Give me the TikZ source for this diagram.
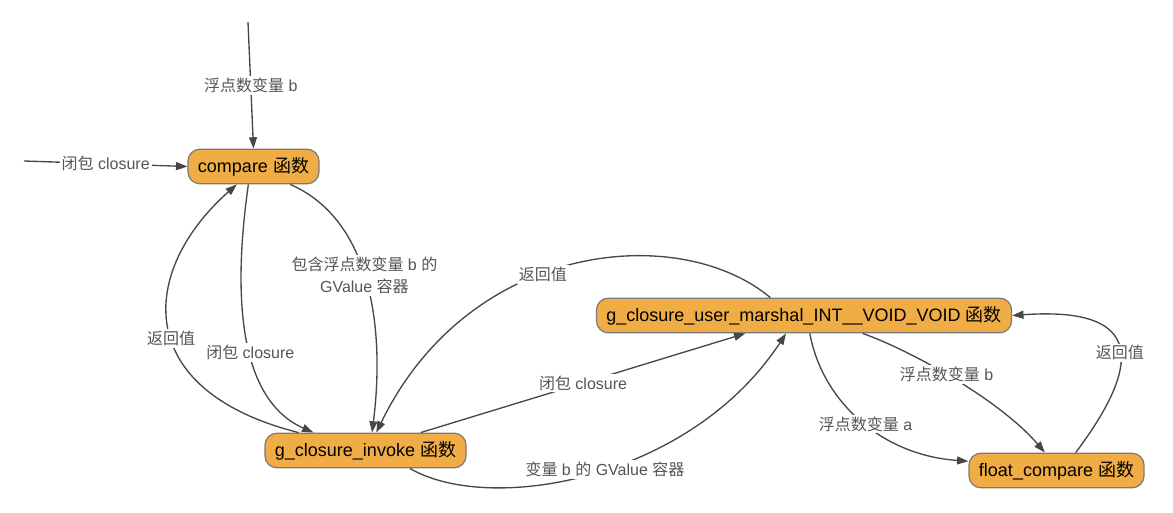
\documentclass[tikz,border=0pt]{standalone}
\usepackage{fontspec}
\setmainfont{Liberation Sans}
\newfontfamily\cjk{Noto Sans CJK SC}
\newcommand{\zh}[1]{{\cjk #1}}
\usetikzlibrary{arrows.meta}
\definecolor{fnorange}{HTML}{F0AD45}
\definecolor{fnborder}{HTML}{7A7A7A}
\definecolor{edgegray}{HTML}{474747}
\definecolor{lblgray}{HTML}{555555}
\tikzset{
  fn/.style={draw=fnborder, fill=fnorange, rounded corners=9pt, line width=0.9pt,
    minimum height=26pt, inner xsep=7.5pt, font=\fontsize{13.5}{16}\selectfont},
  lbl/.style={fill=white, text=lblgray, inner sep=1.5pt, align=center,
    font=\fontsize{12}{16.5}\selectfont},
  flow/.style={draw=edgegray, line width=1pt, -{Triangle[length=8.5pt,width=6pt]}}
}

\begin{document}
\begin{tikzpicture}[x=0.75pt, y=-0.75pt]
\useasboundingbox (0,0) rectangle (1173,513);
% functions
\node[fn] (cmp) at (253.5,166.5) {compare \zh{函数}};
\node[fn] (inv) at (365.5,450.5) {g\_closure\_invoke \zh{函数}};
\node[fn] (msh) at (804,315.5) {g\_closure\_user\_marshal\_INT\_\_VOID\_VOID \zh{函数}};
\node[fn] (fcmp) at (1056.5,470.5) {float\_compare \zh{函数}};
\coordinate (inb) at (248,22);
\coordinate (incl) at (24,161);
% inputs of compare
\draw[flow] (inb) -- node[lbl] {\zh{浮点数变量} b} (cmp.north);
\draw[flow] (incl) -- node[lbl] {\zh{闭包} closure} (cmp.west);
% compare <-> g_closure_invoke
\draw[flow] (cmp.254.7) .. controls (232,300) and (240,400) .. node[lbl, pos=0.55] {\zh{闭包} closure} (inv.161);
\draw[flow] (cmp.334.4) .. controls (372,220) and (385,330) .. node[lbl, pos=0.47] {\zh{包含浮点数变量} b \zh{的}\\GValue \zh{容器}} (inv.70);
\draw[flow] (inv.165) .. controls (130,390) and (140,270) .. node[lbl, pos=0.45] {\zh{返回值}} (cmp.227);
% g_closure_invoke <-> marshal
\draw[flow] (inv.18) -- node[lbl] {\zh{闭包} closure} (msh.197.4);
\draw[flow] (inv.338.5) .. controls (490,515) and (690,480) .. node[lbl, pos=0.53] {\zh{变量} b \zh{的} GValue \zh{容器}} (msh.225.8);
\draw[flow] (msh.152) .. controls (680,222) and (470,240) .. node[lbl, pos=0.57] {\zh{返回值}} (inv.59);
% marshal <-> float_compare
\draw[flow] (msh.288.9) .. controls (822,400) and (880,455) .. node[lbl, pos=0.53] {\zh{浮点数变量} a} (fcmp.174.4);
\draw[flow] (msh.343.2) .. controls (910,350) and (1000,400) .. node[lbl, pos=0.46] {\zh{浮点数变量} b} (fcmp.123.3);
\draw[flow] (fcmp.43.4) .. controls (1130,380) and (1160,305) .. node[lbl, pos=0.5] {\zh{返回值}} (msh.east);
\end{tikzpicture}
\end{document}
